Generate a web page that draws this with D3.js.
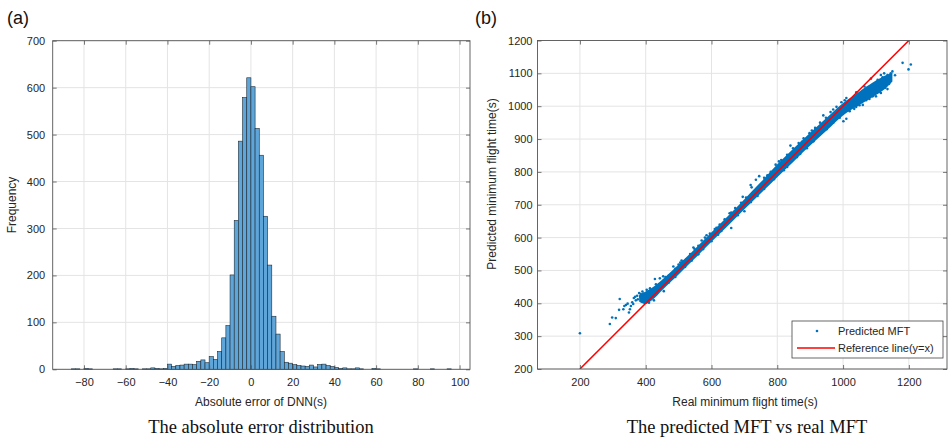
<!DOCTYPE html>
<html>
<head>
<meta charset="utf-8">
<script src="https://cdn.jsdelivr.net/npm/d3@7"></script>
<style>
  body { margin: 0; background: #fff; }
  svg { display: block; }
  .tick text { font-family: "Liberation Sans", Arial, sans-serif; font-size: 11px; fill: #262626; }
</style>
</head>
<body>
<div id="chart"></div>
<script>
// ---- data: histogram of the DNN error (bin start, width 2) ----
const binStart = [-88,-86,-84,-82,-80,-78,-76,-74,-72,-70,-68,-66,-64,-62,-60,-58,-56,-54,-52,-50,-48,-46,-44,-42,
  -40,-38,-36,-34,-32,-30,-28,-26,-24,-22,-20,-18,-16,-14,-12,-10,-8,-6,-4,-2,
  0,2,4,6,8,10,12,14,16,18,20,22,24,26,28,30,32,34,36,38,40,42,44,46,48,
  50,52,54,56,58,60,62,64,66,68,70,72,74,76,78,80,82,84,86,88,90,92,94,96];
const binCount = [0,1,1,0,2,1,0,0,0,0,0,1,1,0,1,2,1,0,1,1,3,2,1,2,
  11,6,8,9,11,11,10,17,20,14,27,21,38,67,93,201,317,486,579,621,
  602,513,456,326,222,113,75,38,15,13,10,8,7,6,9,5,10,11,8,6,4,2,3,1,1,
  3,1,0,0,2,1,0,0,0,0,0,0,0,0,1,0,0,0,1,0,0,0,1,0];
const binWidth = 2;
const histXTicks = [-80,-60,-40,-20,0,20,40,60,80,100];
const histYTicks = [0,100,200,300,400,500,600,700];

// ---- data: predicted vs real MFT ----
// dense core of the scatter (real time, lower / upper predicted edge)
const bandReal = [380, 400, 420, 450, 500, 550, 600, 650, 700, 750, 800, 850, 900, 950, 1000, 1030, 1060, 1100, 1130, 1150];
const bandLow  = [405, 398, 410, 440, 488, 537, 587, 636, 686, 735, 784, 832, 880, 926, 972, 992, 1010, 1034, 1055, 1075];
const bandHigh = [425, 436, 448, 472, 518, 566, 616, 666, 717, 769, 823, 872, 919, 965, 1010, 1030, 1052, 1078, 1094, 1102];
// single points around the core
const pointReal = [200,291,298,309,319,321,332,335,345,349,352,355,359,364,370,374,380,387,390,397,403,413,428,431,425,443,453,484,509,524,570,
  340,362,368,376,383,385,393,395,402,406,410,415,418,422,430,436,440,447,455,462,470,478,490,500,515,535,548,560,580,595,610,625,640,660,672,690,705,
  719,722,745,760,780,795,812,830,848,865,880,898,915,930,948,962,980,995,1010,
  410,440,470,520,560,600,630,680,720,760,790,830,870,910,950,990,1001,1020,1034,1050,1070,1090,1110,1121,1128,1140,
  1105,1120,1135,1145,1150,1158,1181,1199,1206,
  460,505,545,585,615,655,695,735,770,805,840,875,905,940,970,1005,1040,1065,1085,1115,1125,
  455,490,540,575,620,660,700,740,780,820,860,890,930,970,1010,1040,1060,1080,1100,1115,1135];
const pointPred = [309,337,357,355,380,413,382,392,399,372,382,392,403,416,409,423,431,419,436,423,441,446,474,458,409,476,482,512,530,534,591,
  395,398,420,412,420,428,430,418,425,433,428,440,432,438,448,452,447,460,470,468,484,490,505,518,528,550,566,575,600,612,626,640,656,676,690,706,722,
  760,753,787,782,800,822,836,852,872,888,902,918,934,950,965,982,998,1012,1025,
  402,438,463,511,549,589,620,668,708,748,778,815,855,893,930,965,954,985,992,1003,1018,1030,1045,1062,1056,1068,
  1080,1088,1095,1100,1106,1094,1132,1112,1127,
  480,524,570,607,630,674,724,776,790,832,880,892,926,972,990,1018,1042,1060,1084,1095,1100,
  437,480,530,565,609,629,680,727,772,805,845,872,915,950,962,998,1004,1022,1030,1040,1052];
const refLine = [200, 1200];
const mftXTicks = [200,400,600,800,1000,1200];
const mftYTicks = [200,300,400,500,600,700,800,900,1000,1100,1200];

// ---- svg ----
const W = 949, H = 439;
const svg = d3.select("#chart").append("svg")
    .attr("width", W)
    .attr("height", H)
    .style("font-family", "'Liberation Sans', Arial, sans-serif");
svg.append("rect").attr("width", W).attr("height", H).attr("fill", "#fff");

const gridColor = "#e4e4e4";
const boxColor = "#555";
const tickLen = 4;

// grid lines for one plot
function drawGrid(x, y, xTicks, yTicks) {
    const [x0, x1] = x.range();
    const [y0, y1] = y.range();   // y0 bottom, y1 top

    const grid = svg.append("g");
    grid.selectAll(".vg").data(xTicks).join("line")
        .attr("x1", d => x(d)).attr("x2", d => x(d))
        .attr("y1", y1).attr("y2", y0)
        .attr("stroke", gridColor).attr("stroke-width", 1);
    grid.selectAll(".hg").data(yTicks).join("line")
        .attr("x1", x0).attr("x2", x1)
        .attr("y1", d => y(d)).attr("y2", d => y(d))
        .attr("stroke", gridColor).attr("stroke-width", 1);
}

// box with inward ticks on all 4 sides
function drawAxes(x, y, xTicks, yTicks, xPad, yPad) {
    const [x0, x1] = x.range();
    const [y0, y1] = y.range();
    const fmt = d3.format("d");

    const bottom = svg.append("g")
        .attr("transform", `translate(0,${y0})`)
        .call(d3.axisBottom(x).tickValues(xTicks).tickFormat(fmt).tickSizeInner(-tickLen).tickSizeOuter(0).tickPadding(xPad));
    const top = svg.append("g")
        .attr("transform", `translate(0,${y1})`)
        .call(d3.axisTop(x).tickValues(xTicks).tickSizeInner(-tickLen).tickSizeOuter(0).tickFormat(""));
    const left = svg.append("g")
        .attr("transform", `translate(${x0},0)`)
        .call(d3.axisLeft(y).tickValues(yTicks).tickFormat(fmt).tickSizeInner(-tickLen).tickSizeOuter(0).tickPadding(yPad));
    const right = svg.append("g")
        .attr("transform", `translate(${x1},0)`)
        .call(d3.axisRight(y).tickValues(yTicks).tickSizeInner(-tickLen).tickSizeOuter(0).tickFormat(""));

    [bottom, top, left, right].forEach(g => {
        g.select(".domain").remove();
        g.selectAll(".tick line").attr("stroke", boxColor).attr("stroke-width", 0.8);
    });

    svg.append("rect")
        .attr("x", x0).attr("y", y1)
        .attr("width", x1 - x0).attr("height", y0 - y1)
        .attr("fill", "none")
        .attr("stroke", boxColor)
        .attr("stroke-width", 0.9);
}

// ================= (a) histogram =================
const hx = d3.scaleLinear().domain([-95, 105]).range([52.7, 470]);
const hy = d3.scaleLinear().domain([0, 700]).range([369.3, 40.7]);

drawGrid(hx, hy, histXTicks, histYTicks);

const bins = binStart.map((b, i) => ({ lo: b, hi: b + binWidth, n: binCount[i] }))
    .filter(d => d.n > 0);

svg.append("g").selectAll("rect").data(bins).join("rect")
    .attr("x", d => hx(d.lo))
    .attr("y", d => hy(d.n))
    .attr("width", d => hx(d.hi) - hx(d.lo))
    .attr("height", d => hy(0) - hy(d.n))
    .attr("fill", "#5ea6da")
    .attr("stroke", "#1f2a33")
    .attr("stroke-width", 0.6);

drawAxes(hx, hy, histXTicks, histYTicks, 9, 7.5);

svg.append("text").attr("x", 7).attr("y", 24)
    .attr("font-size", 18).attr("fill", "#111").text("(a)");
svg.append("text")
    .attr("transform", "translate(16,205) rotate(-90)")
    .attr("text-anchor", "middle")
    .attr("font-size", 12).attr("fill", "#262626")
    .text("Frequency");
svg.append("text").attr("x", 261).attr("y", 406)
    .attr("text-anchor", "middle")
    .attr("font-size", 12).attr("fill", "#262626")
    .text("Absolute error of DNN(s)");
svg.append("text").attr("x", 261).attr("y", 433)
    .attr("text-anchor", "middle")
    .attr("font-family", "'Liberation Serif', 'Times New Roman', serif")
    .attr("font-size", 18.5).attr("fill", "#111")
    .text("The absolute error distribution");

// ================= (b) scatter =================
const sx = d3.scaleLinear().domain([71, 1316]).range([537.5, 947]);
const sy = d3.scaleLinear().domain([200, 1200]).range([369, 40.5]);

drawGrid(sx, sy, mftXTicks, mftYTicks);

svg.append("clipPath").attr("id", "clipB").append("rect")
    .attr("x", 537.5).attr("y", 40.5).attr("width", 947 - 537.5).attr("height", 369 - 40.5);

const plotB = svg.append("g").attr("clip-path", "url(#clipB)");
const blue = "#0072bd";

const bandData = bandReal.map((r, i) => ({ r: r, lo: bandLow[i], hi: bandHigh[i] }));
const area = d3.area()
    .x(d => sx(d.r))
    .y0(d => sy(d.lo))
    .y1(d => sy(d.hi))
    .curve(d3.curveCatmullRom.alpha(0.5));
plotB.append("path")
    .datum(bandData)
    .attr("d", area)
    .attr("fill", blue);

const pts = pointReal.map((r, i) => ({ r: r, p: pointPred[i] }));
plotB.append("g").selectAll("circle").data(pts).join("circle")
    .attr("cx", d => sx(d.r))
    .attr("cy", d => sy(d.p))
    .attr("r", 1.3)
    .attr("fill", blue);

plotB.append("line")
    .attr("x1", sx(refLine[0])).attr("y1", sy(refLine[0]))
    .attr("x2", sx(refLine[1])).attr("y2", sy(refLine[1]))
    .attr("stroke", "#ff0000").attr("stroke-width", 1.5);

drawAxes(sx, sy, mftXTicks, mftYTicks, 9, 5);

// legend
const leg = svg.append("g");
leg.append("rect").attr("x", 792).attr("y", 321).attr("width", 151).attr("height", 37)
    .attr("fill", "#fff").attr("stroke", "#444").attr("stroke-width", 0.8);
leg.append("circle").attr("cx", 817).attr("cy", 331).attr("r", 1.3).attr("fill", blue);
leg.append("text").attr("x", 838).attr("y", 335)
    .attr("font-size", 11).attr("fill", "#262626").text("Predicted MFT");
leg.append("line").attr("x1", 797).attr("x2", 835).attr("y1", 348).attr("y2", 348)
    .attr("stroke", "#ff0000").attr("stroke-width", 1.5);
leg.append("text").attr("x", 838).attr("y", 352)
    .attr("font-size", 11).attr("fill", "#262626").text("Reference line(y=x)");

svg.append("text").attr("x", 475).attr("y", 24)
    .attr("font-size", 18).attr("fill", "#111").text("(b)");
svg.append("text")
    .attr("transform", "translate(496,184) rotate(-90)")
    .attr("text-anchor", "middle")
    .attr("font-size", 12).attr("fill", "#262626")
    .text("Predicted minimum flight time(s)");
svg.append("text").attr("x", 745).attr("y", 406)
    .attr("text-anchor", "middle")
    .attr("font-size", 12).attr("fill", "#262626")
    .text("Real minimum flight time(s)");
svg.append("text").attr("x", 747).attr("y", 433)
    .attr("text-anchor", "middle")
    .attr("font-family", "'Liberation Serif', 'Times New Roman', serif")
    .attr("font-size", 18.5).attr("fill", "#111")
    .text("The predicted MFT vs real MFT");
</script>
</body>
</html>
